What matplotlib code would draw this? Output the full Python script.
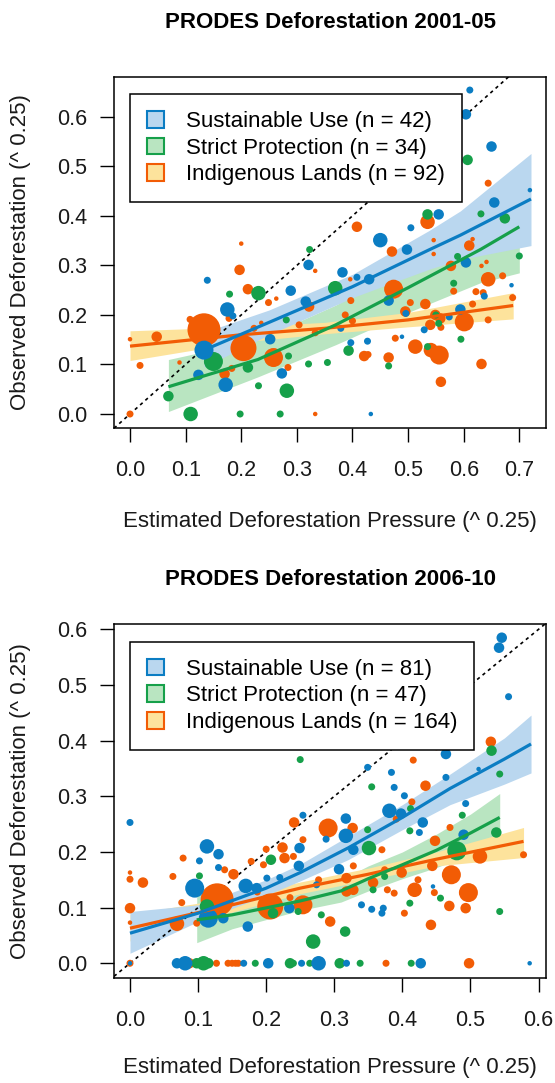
import matplotlib
matplotlib.use("Agg")
import matplotlib.pyplot as plt
from matplotlib.patches import Patch
import numpy as np

plt.rcParams['font.family'] = ['Liberation Sans', 'DejaVu Sans']

# ---- data (x = pressure^0.25, y = observed^0.25, w = size class)

# PRODES 2001-05
su1_x = [0.611, 0.604, 0.650, 0.719, 0.655, 0.555, 0.505, 0.450, 0.498, 0.604, 0.321, 0.139, 0.382, 0.408,
         0.430, 0.289, 0.686, 0.637, 0.316, 0.465, 0.175, 0.185, 0.496, 0.594, 0.574, 0.529, 0.379, 0.252,
         0.397, 0.427, 0.489, 0.133, 0.123, 0.273, 0.172, 0.433]
su1_y = [0.654, 0.605, 0.540, 0.452, 0.427, 0.403, 0.376, 0.351, 0.332, 0.306, 0.301, 0.270, 0.286, 0.276,
         0.272, 0.249, 0.260, 0.238, 0.227, 0.229, 0.211, 0.198, 0.203, 0.211, 0.196, 0.170, 0.173, 0.151,
         0.144, 0.147, 0.156, 0.129, 0.079, 0.082, 0.059, 0.000]
su1_w = [2, 3, 3, 1, 3, 3, 2, 4, 3, 3, 3, 2, 3, 2, 3, 3, 1, 2, 3, 3, 4, 2, 2, 3, 2, 2, 2, 3, 2, 2, 1, 5, 3, 3, 4, 1]

sp1_x = [0.607, 0.631, 0.674, 0.535, 0.323, 0.589, 0.700, 0.582, 0.179, 0.231, 0.369, 0.281, 0.550, 0.555,
         0.595, 0.150, 0.535, 0.393, 0.465, 0.285, 0.321, 0.355, 0.212, 0.231, 0.282, 0.069, 0.109, 0.198, 0.270]
sp1_y = [0.513, 0.404, 0.395, 0.403, 0.332, 0.318, 0.319, 0.264, 0.242, 0.244, 0.254, 0.190, 0.200, 0.183,
         0.151, 0.106, 0.136, 0.128, 0.097, 0.117, 0.101, 0.104, 0.094, 0.057, 0.047, 0.036, 0.000, 0.000, 0.000]
sp1_w = [3, 2, 3, 3, 2, 2, 2, 2, 2, 4, 4, 2, 2, 2, 2, 5, 2, 3, 2, 2, 2, 2, 3, 2, 4, 3, 4, 2, 2]

il1_x = [0.644, 0.535, 0.408, 0.200, 0.471, 0.546, 0.546, 0.610, 0.616, 0.641, 0.632, 0.577, 0.197, 0.333,
         0.396, 0.212, 0.474, 0.644, 0.670, 0.576, 0.622, 0.582, 0.635, 0.688, 0.249, 0.263, 0.322, 0.397,
         0.504, 0.531, 0.616, 0.178, 0.108, 0.304, 0.387, 0.400, 0.495, 0.549, 0.558, 0.601, 0.644, 0.540,
         0.559, 0.236, 0.223, 0.333, 0.133, 0.048, 0.000, 0.204, 0.477, 0.258, 0.513, 0.541, 0.556, 0.421,
         0.465, 0.428, 0.284, 0.089, 0.018, 0.183, 0.170, 0.632, 0.559, 0.333, 0.000]
il1_y = [0.466, 0.388, 0.378, 0.344, 0.328, 0.351, 0.323, 0.340, 0.353, 0.307, 0.299, 0.299, 0.291, 0.289,
         0.272, 0.252, 0.252, 0.272, 0.279, 0.301, 0.247, 0.248, 0.245, 0.235, 0.225, 0.233, 0.217, 0.229,
         0.225, 0.222, 0.222, 0.193, 0.191, 0.180, 0.200, 0.188, 0.207, 0.200, 0.193, 0.186, 0.190, 0.180,
         0.175, 0.184, 0.173, 0.164, 0.170, 0.156, 0.151, 0.133, 0.153, 0.114, 0.136, 0.129, 0.119, 0.117,
         0.114, 0.120, 0.094, 0.104, 0.098, 0.092, 0.081, 0.101, 0.065, 0.000, 0.000]
il1_w = [2, 4, 3, 1, 3, 1, 1, 3, 1, 1, 1, 3, 3, 1, 1, 3, 5, 4, 2, 1, 2, 2, 2, 2, 2, 1, 3, 2, 2, 3, 2, 2, 2, 2,
         2, 2, 3, 3, 3, 5, 2, 3, 2, 1, 2, 2, 7, 3, 1, 6, 2, 5, 4, 4, 5, 3, 3, 2, 2, 1, 2, 2, 3, 3, 3, 1, 2]

# fitted curves and confidence bands, 2001-05
su1_fx = [0.133, 0.25, 0.40, 0.537, 0.594, 0.721]
su1_fy = [0.129, 0.185, 0.257, 0.331, 0.361, 0.434]
su1_lo = [0.095, 0.160, 0.235, 0.292, 0.312, 0.340]
su1_hi = [0.165, 0.210, 0.282, 0.370, 0.410, 0.526]

sp1_fx = [0.069, 0.23, 0.37, 0.50, 0.63, 0.70]
sp1_fy = [0.055, 0.110, 0.180, 0.255, 0.332, 0.378]
sp1_lo = [0.005, 0.075, 0.140, 0.205, 0.265, 0.285]
sp1_hi = [0.110, 0.150, 0.220, 0.305, 0.400, 0.460]

il1_fx = [0.0, 0.20, 0.35, 0.50, 0.689]
il1_fy = [0.137, 0.160, 0.173, 0.190, 0.219]
il1_lo = [0.108, 0.145, 0.162, 0.176, 0.192]
il1_hi = [0.168, 0.176, 0.185, 0.205, 0.245]

# PRODES 2006-10
su2_x = [0.546, 0.542, 0.556, 0.464, 0.349, 0.384, 0.512, 0.464, 0.388, 0.403, 0.493, 0.381, 0.398, 0.317,
         0.254, 0.430, 0.000, 0.288, 0.317, 0.425, 0.490, 0.113, 0.130, 0.102, 0.130, 0.095, 0.170, 0.249,
         0.248, 0.201, 0.220, 0.186, 0.274, 0.307, 0.328, 0.445, 0.340, 0.355, 0.372, 0.370, 0.234, 0.115,
         0.137, 0.173, 0.069, 0.081, 0.167, 0.203, 0.252, 0.277, 0.318, 0.427, 0.587, 0.000]
su2_y = [0.585, 0.567, 0.479, 0.376, 0.352, 0.343, 0.349, 0.334, 0.316, 0.301, 0.287, 0.274, 0.269, 0.260,
         0.266, 0.253, 0.253, 0.223, 0.229, 0.235, 0.231, 0.210, 0.196, 0.184, 0.172, 0.135, 0.139, 0.207,
         0.175, 0.153, 0.154, 0.135, 0.141, 0.169, 0.204, 0.138, 0.105, 0.097, 0.099, 0.090, 0.099, 0.081,
         0.081, 0.066, 0.000, 0.000, 0.000, 0.000, 0.000, 0.000, 0.000, 0.000, 0.000, 0.000]
su2_w = [3, 3, 2, 3, 2, 2, 1, 2, 2, 2, 2, 4, 3, 3, 2, 3, 2, 2, 4, 2, 3, 4, 3, 2, 2, 5, 4, 3, 3, 2, 2, 3, 2, 3,
         3, 1, 2, 2, 2, 2, 3, 5, 3, 3, 3, 4, 2, 3, 2, 4, 2, 3, 1, 1]

sp2_x = [0.250, 0.531, 0.543, 0.355, 0.488, 0.412, 0.349, 0.411, 0.538, 0.102, 0.207, 0.351, 0.357, 0.374,
         0.480, 0.456, 0.411, 0.543, 0.210, 0.247, 0.113, 0.281, 0.316, 0.269, 0.098, 0.108, 0.115, 0.184,
         0.235, 0.240, 0.264, 0.308, 0.338, 0.413]
sp2_y = [0.366, 0.382, 0.340, 0.317, 0.266, 0.278, 0.240, 0.238, 0.235, 0.157, 0.186, 0.207, 0.132, 0.156,
         0.202, 0.117, 0.108, 0.093, 0.090, 0.093, 0.102, 0.087, 0.057, 0.039, 0.000, 0.000, 0.000, 0.000,
         0.000, 0.000, 0.000, 0.000, 0.000, 0.000]
sp2_w = [2, 3, 2, 2, 2, 2, 2, 2, 3, 2, 3, 4, 2, 2, 5, 2, 2, 2, 3, 2, 4, 2, 3, 4, 3, 4, 3, 2, 3, 2, 2, 3, 2, 2]

il2_x = [0.530, 0.450, 0.416, 0.434, 0.414, 0.391, 0.241, 0.470, 0.291, 0.327, 0.448, 0.078, 0.063, 0.019,
         0.000, 0.000, 0.139, 0.152, 0.128, 0.178, 0.196, 0.224, 0.227, 0.200, 0.240, 0.254, 0.187, 0.277,
         0.328, 0.370, 0.318, 0.318, 0.328, 0.357, 0.374, 0.378, 0.388, 0.399, 0.418, 0.423, 0.444, 0.472,
         0.514, 0.497, 0.469, 0.493, 0.578, 0.447, 0.403, 0.442, 0.206, 0.254, 0.000, 0.000, 0.069, 0.076,
         0.098, 0.294, 0.235, 0.000, 0.087, 0.127, 0.144, 0.150, 0.155, 0.159, 0.376, 0.498]
il2_y = [0.398, 0.389, 0.365, 0.319, 0.290, 0.259, 0.253, 0.244, 0.243, 0.243, 0.220, 0.189, 0.156, 0.145,
         0.163, 0.151, 0.168, 0.160, 0.114, 0.183, 0.177, 0.208, 0.189, 0.205, 0.192, 0.222, 0.128, 0.150,
         0.175, 0.204, 0.153, 0.129, 0.132, 0.145, 0.168, 0.132, 0.126, 0.163, 0.132, 0.150, 0.175, 0.159,
         0.192, 0.127, 0.103, 0.099, 0.195, 0.127, 0.090, 0.069, 0.102, 0.105, 0.099, 0.073, 0.071, 0.109,
         0.072, 0.075, 0.118, 0.000, 0.000, 0.000, 0.000, 0.000, 0.000, 0.000, 0.000, 0.000]
il2_w = [3, 2, 2, 3, 2, 2, 3, 2, 5, 3, 3, 2, 2, 3, 1, 2, 2, 3, 7, 2, 2, 3, 3, 2, 2, 2, 2, 2, 2, 2, 3, 3, 3, 3,
         2, 2, 2, 3, 4, 2, 3, 5, 4, 5, 3, 3, 2, 2, 2, 3, 6, 5, 3, 1, 4, 2, 2, 3, 2, 2, 3, 2, 2, 2, 2, 2, 2, 3]

# fitted curves and confidence bands, 2006-10
su2_fx = [0.0, 0.10, 0.20, 0.25, 0.32, 0.40, 0.47, 0.55, 0.589]
su2_fy = [0.054, 0.090, 0.135, 0.163, 0.207, 0.262, 0.314, 0.367, 0.394]
su2_lo = [0.018, 0.075, 0.122, 0.148, 0.186, 0.240, 0.285, 0.322, 0.342]
su2_hi = [0.093, 0.105, 0.150, 0.178, 0.228, 0.285, 0.340, 0.405, 0.446]

sp2_fx = [0.098, 0.15, 0.25, 0.31, 0.35, 0.40, 0.45, 0.50, 0.543]
sp2_fy = [0.078, 0.087, 0.112, 0.130, 0.152, 0.177, 0.203, 0.234, 0.262]
sp2_lo = [0.037, 0.062, 0.095, 0.110, 0.130, 0.152, 0.172, 0.195, 0.216]
sp2_hi = [0.126, 0.110, 0.130, 0.150, 0.175, 0.200, 0.232, 0.268, 0.305]

il2_fx = [0.0, 0.15, 0.25, 0.35, 0.45, 0.578]
il2_fy = [0.063, 0.105, 0.135, 0.160, 0.187, 0.219]
il2_lo = [0.040, 0.092, 0.125, 0.150, 0.175, 0.190]
il2_hi = [0.088, 0.118, 0.146, 0.171, 0.200, 0.244]

titles = ['PRODES Deforestation 2001-05', 'PRODES Deforestation 2006-10']
n_counts = [(42, 34, 92), (81, 47, 164)]
group_names = ['Sustainable Use', 'Strict Protection', 'Indigenous Lands']

# ---- styling
BLUE, GREEN, ORANGE = '#0b7dc3', '#16a04a', '#f25c05'
BLUE_F, GREEN_F, YELLOW_F = '#bad7ef', '#b9e5c1', '#fde39c'
DIAM = {1: 4.5, 2: 7, 3: 10.5, 4: 14.5, 5: 19, 6: 26, 7: 33}  # marker diameter in px
TXT = '#1a1a1a'


def sizes(w):
    return [(DIAM[k] * 0.72) ** 2 for k in w]


def panel(ax, title, title_pad, xlab_pad, counts, pts, fits, xlim, ylim, xticks):
    # bands
    (sux, suy, sul, suh), (spx, spy, spl, sph), (ilx, ily, ill, ilh) = fits
    ax.fill_between(spx, spl, sph, color=GREEN_F, lw=0, zorder=1)
    ax.fill_between(ilx, ill, ilh, color=YELLOW_F, lw=0, zorder=1.1)
    ax.fill_between(sux, sul, suh, color=BLUE_F, lw=0, zorder=1.2)
    # 1:1 line
    ax.plot([xlim[0], xlim[1]], [xlim[0], xlim[1]], color='black', lw=1.2,
            ls=(0, (2, 2.2)), zorder=2)
    # points
    (a, b, c), (d, e, f), (g, h, i) = pts
    ax.scatter(g, h, s=sizes(i), color=ORANGE, lw=0, zorder=3)
    ax.scatter(d, e, s=sizes(f), color=GREEN, lw=0, zorder=3.1)
    ax.scatter(a, b, s=sizes(c), color=BLUE, lw=0, zorder=3.2)
    # fitted lines
    ax.plot(ilx, ily, color=ORANGE, lw=2.3, zorder=4, solid_capstyle='butt')
    ax.plot(spx, spy, color=GREEN, lw=2.3, zorder=4.1, solid_capstyle='butt')
    ax.plot(sux, suy, color=BLUE, lw=2.3, zorder=4.2, solid_capstyle='butt')

    ax.set_xlim(*xlim)
    ax.set_ylim(*ylim)
    ax.set_xticks(xticks)
    ax.set_xticklabels(['%.1f' % t for t in xticks])
    ax.set_yticks(np.arange(0, 0.61, 0.1))
    ax.set_yticklabels(['%.1f' % t for t in np.arange(0, 0.61, 0.1)])
    ax.tick_params(axis='both', direction='out', length=10, width=1.0, labelsize=15.5,
                   labelcolor=TXT)
    ax.tick_params(axis='x', pad=13)
    ax.tick_params(axis='y', pad=9)
    for sp in ax.spines.values():
        sp.set_linewidth(1.1)
    ax.set_title(title, fontsize=16, fontweight='bold', pad=title_pad)
    ax.set_xlabel('Estimated Deforestation Pressure (^ 0.25)', fontsize=16, labelpad=xlab_pad,
                  color=TXT)
    ax.set_ylabel('Observed Deforestation (^ 0.25)', fontsize=16, labelpad=19, color=TXT)

    handles = [Patch(facecolor=BLUE_F, edgecolor=BLUE, lw=1.5),
               Patch(facecolor=GREEN_F, edgecolor=GREEN, lw=1.5),
               Patch(facecolor=YELLOW_F, edgecolor=ORANGE, lw=1.5)]
    labels = ['%s (n = %d)' % (nm, n) for nm, n in zip(group_names, counts)]
    leg = ax.legend(handles, labels, loc='upper left', bbox_to_anchor=(0.037, 0.95),
                    fontsize=16, frameon=True, fancybox=False, edgecolor='black',
                    framealpha=1, handlelength=0.78, handleheight=0.78, handletextpad=1.0,
                    borderpad=0.75, labelspacing=0.25, borderaxespad=0)
    leg.get_frame().set_linewidth(1.1)
    leg.set_zorder(10)


fig = plt.figure(figsize=(5.55, 10.83), dpi=100)
ax1 = fig.add_axes([0.2054, 0.6051, 0.7784, 0.3241])
ax2 = fig.add_axes([0.2054, 0.0972, 0.7784, 0.3263])

panel(ax1, titles[0], 35, 22, n_counts[0],
      [(su1_x, su1_y, su1_w), (sp1_x, sp1_y, sp1_w), (il1_x, il1_y, il1_w)],
      [(su1_fx, su1_fy, su1_lo, su1_hi), (sp1_fx, sp1_fy, sp1_lo, sp1_hi),
       (il1_fx, il1_fy, il1_lo, il1_hi)],
      (-0.0288, 0.748), (-0.0276, 0.681), np.arange(0, 0.71, 0.1))
panel(ax2, titles[1], 28, 19, n_counts[1],
      [(su2_x, su2_y, su2_w), (sp2_x, sp2_y, sp2_w), (il2_x, il2_y, il2_w)],
      [(su2_fx, su2_fy, su2_lo, su2_hi), (sp2_fx, sp2_fy, sp2_lo, sp2_hi),
       (il2_fx, il2_fy, il2_lo, il2_hi)],
      (-0.0235, 0.611), (-0.026, 0.609), np.arange(0, 0.61, 0.1))

fig.savefig('out.png', dpi=100)
